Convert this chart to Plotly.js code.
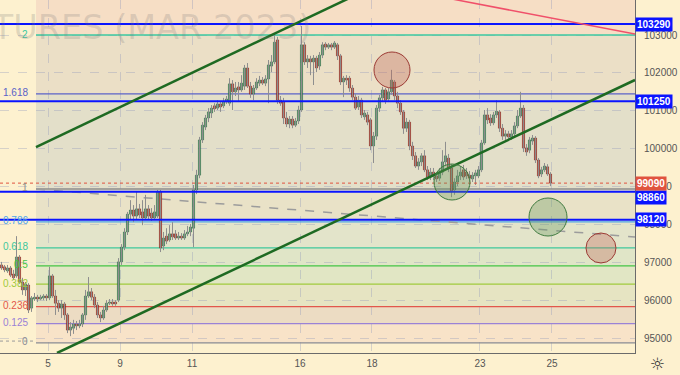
<!DOCTYPE html>
<html><head><meta charset="utf-8">
<script src="https://cdn.plot.ly/plotly-3.0.1.min.js"></script>
<style>html,body{margin:0;padding:0;background:#fdf1cf}</style>
</head><body><div id="chart" style="width:680px;height:375px"></div>
<script>
// ---- data (RTS futures MAR 2023, hourly bars, Jan 2023) ----
const openP=[
96930,96880,96770,96850,96690,96640,97140,96480,96270,96400,
95790,96030,96080,96030,96060,96110,96060,96640,96110,95920,
95790,95900,95610,95210,95260,95370,95320,95370,95610,96110,
96220,96080,95870,95610,95530,95740,95920,95950,95950,96000,
97010,97400,97800,98270,98380,98220,98410,98330,98170,98410,
98300,98170,98220,98860,97430,97690,97590,97750,97750,97640,
97690,97640,97750,97800,97900,98910,99300,100230,100570,100810,
100940,101130,101070,101180,101130,101230,101200,101710,101500,101630,
101550,101650,102130,101650,101440,101600,101730,101810,101730,101840,
102180,102290,102870,101280,101230,100810,100650,100780,100620,100730,
101020,102740,102290,102370,102290,102390,102180,102470,102760,102680,
102740,102680,102740,102450,101760,101860,101860,101600,101360,101100,
101280,100840,100890,100760,100070,100330,101070,101340,101550,101310,
101500,101760,101390,101200,100970,100540,100700,100070,99810,99540,
99650,99810,99440,99250,99380,99280,99220,99380,99650,99750,
99490,98910,99120,99280,99440,99380,99300,99200,99280,99280,
99440,100150,100890,100810,100680,100890,100970,100540,100330,100390,
100310,100390,100600,100860,101070,100020,99960,100200,100280,99700,
99330,99440,99520,99330];
const highP=[
97010,96930,96930,96900,96800,97690,97190,96590,96480,96450,
96110,96190,96140,96140,96160,96160,96880,96690,96270,96000,
96000,95950,95660,95420,95480,95450,95480,95660,96270,96610,
96320,96160,95950,95690,95850,96000,96030,96030,96000,97110,
97480,97900,98330,98640,98510,98860,98540,98640,98780,98510,
98430,98510,98910,98910,97800,97900,97980,98060,97850,97800,
97770,97850,97960,98010,99040,99440,100310,100700,100890,101070,
101150,101200,101280,101230,101340,101390,101860,101810,101760,101760,
101940,102210,102260,101760,101680,101860,101920,101890,101940,102340,
102470,103050,102950,101390,101340,100970,100860,100860,100810,101130,
103240,102810,102470,102450,102470,102450,102550,102810,102810,102790,
102790,102840,102790,102500,101920,101940,101920,101680,101440,101390,
101340,101020,100970,100810,100440,101150,101420,101630,101600,101600,
102080,101810,101500,101280,101020,100810,100760,100180,99910,99750,
99880,99960,99540,99490,99490,99360,99490,99960,100180,99860,
99590,99220,99440,99540,99570,99490,99410,99380,99440,99540,
100230,101020,101070,100910,100970,101280,101020,100650,100490,100470,
100490,100700,101020,101500,101150,100120,100310,100360,100330,99750,
99520,99620,99590,99380];
const lowP=[
96800,96740,96720,96610,96530,96590,96430,96140,96110,95660,
95690,95980,95950,96000,96000,95980,96000,96060,95610,95690,
95530,95480,95130,95050,95110,95210,95260,95290,95480,96060,
96000,95790,95530,95420,95480,95690,95870,95850,95850,95950,
96930,97320,97720,98120,98060,98120,98170,97980,98120,98120,
98090,98120,98170,97270,97320,97480,97540,97590,97590,97590,
97590,97590,97690,97690,97400,98800,99220,100150,100490,100700,
100810,100970,101020,100970,101070,101180,101130,101020,101390,101230,
101500,101550,101600,101340,101280,101550,101650,101680,101650,101200,
102020,102230,101180,101130,100650,100570,100540,100540,100570,100650,
100970,102210,102130,101940,101680,102020,102080,102390,102600,102630,
102600,102630,102340,101680,101360,101680,101500,101280,101020,101020,
100810,100760,100620,99960,99620,100230,100970,101230,101180,101230,
101420,101280,101070,100890,100390,100440,99960,99700,99490,99440,
99540,99380,99170,99170,99170,99120,99150,99300,99540,99380,
98720,98780,99010,99170,99170,99200,99120,99120,99040,99220,
99380,100100,100650,100600,100620,100810,100440,100230,100230,100230,
100230,100310,100540,100810,99910,99810,99880,100100,99620,99220,
99250,99380,99280,99010];
const closeP=[
96850,96800,96850,96660,96590,97140,96480,96270,96430,95740,
96060,96080,96030,96080,96110,96060,96640,96110,95920,95790,
95900,95610,95210,95290,95370,95320,95370,95610,96110,96220,
96080,95870,95610,95530,95740,95920,95950,95900,95900,97010,
97400,97800,98270,98380,98220,98410,98250,98170,98410,98220,
98170,98330,98860,97380,97640,97560,97750,97670,97640,97690,
97640,97750,97800,97930,98910,99300,100230,100620,100810,100970,
101070,101050,101180,101100,101230,101310,101710,101500,101600,101550,
101730,102130,101650,101440,101600,101760,101810,101730,101840,102210,
102290,102810,101280,101200,100810,100650,100780,100620,100730,101020,
102740,102290,102370,102290,102390,102130,102470,102740,102680,102740,
102680,102790,102450,101760,101860,101810,101600,101360,101070,101280,
100890,100940,100700,100070,100330,101070,101340,101550,101280,101500,
101810,101390,101200,100970,100540,100700,100070,99810,99540,99650,
99810,99440,99250,99380,99280,99200,99380,99650,99810,99490,
98860,99120,99280,99380,99250,99280,99220,99300,99360,99440,
100150,100890,100760,100680,100890,100990,100540,100330,100390,100310,
100390,100600,100860,101070,100020,99910,100230,100280,99700,99280,
99440,99540,99330,99090];

// day ticks (bar index of session start, 12 bars per day)
const dayTickPos=[16,40,64,100,124,160,184];
const dayTickText=['5','9','11','16','18','23','25'];
const priceTicks=[95000,96000,97000,98000,99000,100000,101000,102000,103000,104000];
const priceTickText=['95000','96000','97000','98000','99000','100000','101000','102000','103000','104000'];

// Fibonacci retracement
const fibStartBar=12;
const fibLow=94870, fibHigh=98935;
const fibRatios=[0,0.125,0.236,0.382,0.5,0.618,0.786,1,1.618,2];
const fibLabels=['0','0.125','0.236','0.382','0.5','0.618','0.786','1','1.618','2'];

// horizontal key levels & last price
const keyLevels=[103290,101250,98860,98120];
const lastPrice=99090;
const lowMarker=94920;

// drawings (bar index, price)
const upperChannel={x:[12,133.3],y:[100043,104608]};
const lowerChannel={x:[19,211.67],y:[94605,101812]};
const redTrend={x:[133.3,211.67],y:[104214,103024]};
const greyDashed={x:[12,211.67],y:[98934,97667]};
const circleX=[130.67,150.67,182.67,200.33];
const circleY=[102076,99119,98195,97377];

// ---- styles ----
const fibColors=['#8a8c94','#9a82d6','#e2574c','#9fca3c','#45c445','#3ec79c','#4ea6ea','#8c8c8c','#5a62c8','#3cc8a0'];
const fibFills=['#f8e3c8','#ecdcc3','#e6e4c2','#e1e6c4','#e0e5c7','#e3e4ca','#e9e2c7','#e3dfc9','#ebdfc6','#f6dec5'];
const keyLabelShift=[0,0,-6,0];
const circleStyle=[
 {r:18,fill:'rgba(190,95,85,0.32)',line:'#9c3a34'},
 {r:18,fill:'rgba(95,150,90,0.32)',line:'#3f7a3f'},
 {r:19,fill:'rgba(95,150,90,0.32)',line:'#3f7a3f'},
 {r:15,fill:'rgba(190,95,85,0.32)',line:'#9c3a34'}];

const xs=closeP.map((_,i)=>i+0.5);
const body=closeP.map((c,i)=>c-openP[i]);
const bodyCol=closeP.map((c,i)=>c>=openP[i]?'#3d8a5c':'#b2372c');
const bodyLine=closeP.map((c,i)=>c>=openP[i]?'#2c6644':'#7a201a');

const fibPrices=fibRatios.map(r=>fibLow+(fibHigh-fibLow)*r);
const shapes=[];
const annotations=[];
for(let k=0;k<fibPrices.length;k++){
  const y0=fibPrices[k];
  const y1=k<fibPrices.length-1?fibPrices[k+1]:106000;
  shapes.push({type:'rect',layer:'below',xref:'x',yref:'y',x0:fibStartBar,x1:260,y0:y0,y1:y1,fillcolor:fibFills[k],line:{width:0}});
}
fibPrices.forEach((p,k)=>{
  shapes.push({type:'line',layer:'between',xref:'x',yref:'y',x0:fibStartBar,x1:260,y0:p,y1:p,line:{color:fibColors[k],width:1.3}});
  annotations.push({xref:'x',yref:'y',x:fibStartBar-2,y:p,text:fibLabels[k],showarrow:false,xanchor:'right',yanchor:'middle',yshift:1,font:{family:'Liberation Sans, Arial',size:10,color:fibColors[k]}});
});
shapes.push({type:'line',layer:'between',xref:'paper',yref:'y',x0:0,x1:1,y0:lowMarker,y1:lowMarker,line:{color:'#9a9a9a',width:1,dash:'dot'}});
shapes.push({type:'line',layer:'above',xref:'paper',yref:'y',x0:0,x1:1,y0:lastPrice,y1:lastPrice,line:{color:'#e0533f',width:1,dash:'dot'}});
keyLevels.forEach((p,k)=>{
  shapes.push({type:'line',layer:'above',xref:'paper',yref:'y',x0:0,x1:1,y0:p,y1:p,line:{color:'#0a14ff',width:2}});
  annotations.push({xref:'paper',yref:'y',x:1,y:p,yshift:keyLabelShift[k],text:'<b>'+p+'</b>',showarrow:false,xanchor:'left',yanchor:'middle',bgcolor:'#0a14ff',borderpad:1,font:{family:'Liberation Sans, Arial',size:10,color:'#ffffff'}});
});
annotations.push({xref:'paper',yref:'y',x:1,y:lastPrice,text:'<b>'+lastPrice+'</b>',showarrow:false,xanchor:'left',yanchor:'middle',bgcolor:'#e0533f',borderpad:1,font:{family:'Liberation Sans, Arial',size:10,color:'#ffffff'}});
[upperChannel,lowerChannel].forEach(l=>{
  shapes.push({type:'line',layer:'above',xref:'x',yref:'y',x0:l.x[0],x1:l.x[1],y0:l.y[0],y1:l.y[1],line:{color:'#1e6a22',width:2.5}});
});
shapes.push({type:'line',layer:'above',xref:'x',yref:'y',x0:redTrend.x[0],x1:redTrend.x[1],y0:redTrend.y[0],y1:redTrend.y[1],line:{color:'#f0506a',width:1.5}});
shapes.push({type:'line',layer:'between',xref:'x',yref:'y',x0:greyDashed.x[0],x1:greyDashed.x[1],y0:greyDashed.y[0],y1:greyDashed.y[1],line:{color:'#9c9c9c',width:1.5,dash:'dash'}});
circleX.forEach((cx,k)=>{
  const s=circleStyle[k];
  shapes.push({type:'circle',layer:'above',xref:'x',yref:'y',xsizemode:'pixel',ysizemode:'pixel',xanchor:cx,yanchor:circleY[k],x0:-s.r,x1:s.r,y0:-s.r,y1:s.r,fillcolor:s.fill,line:{color:s.line,width:1}});
});
annotations.push({xref:'paper',yref:'paper',x:313/635,y:(353-27)/353,text:'FUTURES (MAR 2023)',showarrow:false,xanchor:'right',yanchor:'middle',font:{family:'DejaVu Sans',size:33.5,color:'rgba(120,120,120,0.22)'}});
annotations.push({xref:'paper',yref:'paper',x:657/635,y:-11/353,text:'☼',showarrow:false,xanchor:'center',yanchor:'middle',font:{family:'DejaVu Sans',size:17,color:'#333'}});

const traces=[
 {type:'ohlc',x:xs,open:openP,high:highP,low:lowP,close:closeP,tickwidth:0,
  increasing:{line:{color:'#8e8e8e',width:1}},decreasing:{line:{color:'#8e8e8e',width:1}},hoverinfo:'skip'},
 {type:'bar',x:xs,base:openP,y:body,width:0.72,marker:{color:bodyCol,line:{color:bodyLine,width:0.5}},hoverinfo:'skip'}
];
const grid='rgba(140,150,185,0.35)';
const layout={
 width:680,height:375,margin:{l:0,r:45,t:0,b:22},
 paper_bgcolor:'#fdf1cf',plot_bgcolor:'#fdf1cf',showlegend:false,hovermode:false,
 xaxis:{range:[0,211.67],tickmode:'array',tickvals:dayTickPos,ticktext:dayTickText,showgrid:true,gridcolor:grid,griddash:'dash',gridwidth:1,
  zeroline:false,showline:true,linecolor:'#6b6b6b',linewidth:1,ticks:'outside',ticklen:1,tickcolor:'rgba(0,0,0,0)',
  tickfont:{family:'Liberation Sans, Arial',size:10,color:'#555'},rangeslider:{visible:false},fixedrange:true},
 yaxis:{side:'right',range:[94605,103924],tickmode:'array',tickvals:priceTicks,ticktext:priceTickText,showgrid:true,gridcolor:grid,griddash:'dash',gridwidth:1,
  zeroline:false,showline:true,linecolor:'#6b6b6b',linewidth:1,ticks:'outside',ticklen:6,tickcolor:'rgba(0,0,0,0)',
  tickfont:{family:'Liberation Sans, Arial',size:10,color:'#555'},fixedrange:true},
 shapes:shapes,annotations:annotations
};
Plotly.newPlot('chart',traces,layout,{displayModeBar:false,staticPlot:true});
</script></body></html>
